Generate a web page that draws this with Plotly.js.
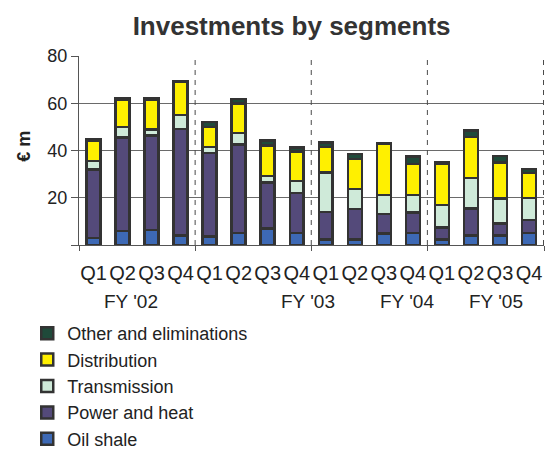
<!DOCTYPE html>
<html>
<head>
<meta charset="utf-8">
<script src="https://cdn.plot.ly/plotly-3.0.1.min.js"></script>
<style>
  html, body { margin: 0; padding: 0; background: #ffffff; }
  #chart { width: 545px; height: 450px; }
</style>
</head>
<body>
<div id="chart"></div>
<script>
// Quarterly investments by segment, € m
const years = ["FY '02", "FY '03", "FY '04", "FY '05"];
const quarters = ["Q1", "Q2", "Q3", "Q4"];

const oilShale     = [3.0, 6.0, 6.3, 4.0, 3.5, 5.0, 7.0, 5.0, 2.3, 2.3, 4.8, 5.1, 2.3, 4.1, 4.1, 5.1];
const powerAndHeat = [29.0, 39.5, 40.0, 45.0, 35.5, 37.5, 19.5, 17.0, 11.7, 12.9, 8.3, 8.7, 5.1, 11.4, 5.0, 5.4];
const transmission = [3.5, 4.5, 2.5, 6.0, 2.5, 5.0, 2.7, 5.0, 16.6, 8.6, 8.0, 7.3, 9.5, 12.8, 10.6, 9.5];
const distribution = [8.5, 11.5, 12.5, 14.0, 8.5, 12.5, 13.0, 12.5, 10.8, 12.7, 21.6, 13.1, 17.7, 17.4, 15.3, 10.4];
const otherElim    = [0.8, 0.7, 0.7, 0.5, 2.0, 1.8, 2.0, 1.8, 2.0, 2.0, 0.4, 3.2, 0.4, 2.7, 2.7, 1.8];

// one category per quarter, labelled with the quarter only
const categories = [];
const tickLabels = [];
years.forEach(y => quarters.forEach(q => { categories.push(y + " " + q); tickLabels.push(q); }));

// year captions under the quarter labels (category index where each caption sits)
const yearCaptionAt = [1.3, 7.4, 10.8, 13.85];

const edge = { color: "#333333", width: 2.5 };
const series = [
  { name: "Oil shale",              y: oilShale,     color: "#3d69b5" },
  { name: "Power and heat",         y: powerAndHeat, color: "#544a7a" },
  { name: "Transmission",           y: transmission, color: "#cfead9" },
  { name: "Distribution",           y: distribution, color: "#fff000" },
  { name: "Other and eliminations", y: otherElim,    color: "#1f4a3a" }
];

const traces = series.map(s => ({
  type: "bar",
  name: s.name,
  x: categories,
  y: s.y,
  marker: { color: s.color, line: edge },
  hoverinfo: "name+y"
}));

// boundary ticks between financial years on a hidden helper axis
traces.push({
  type: "scatter", x: [-0.5, 15.5], y: [0, 0], xaxis: "x2", yaxis: "y",
  mode: "none", showlegend: false, hoverinfo: "skip"
});

const boundaries = [3.5, 7.5, 11.5, 15.5];
const shapes = boundaries.map(b => ({
  type: "line", xref: "x", yref: "y", x0: b, x1: b, y0: 0, y1: 80,
  line: { color: "#4a4a4a", width: 1, dash: "5px,5px" }
}));

const annotations = years.map((y, i) => ({
  text: y, xref: "x", yref: "paper", x: yearCaptionAt[i], y: 0,
  yshift: -56, showarrow: false, xanchor: "center", yanchor: "middle",
  font: { family: "Liberation Sans, Arial, sans-serif", size: 19, color: "#222222" }
}));
annotations.push({
  text: "<b>€ m</b>", xref: "paper", yref: "paper", x: 0, y: 0.52,
  xshift: -67, textangle: -90, showarrow: false,
  font: { family: "Liberation Sans, Arial, sans-serif", size: 18, color: "#222222" }
});

const layout = {
  width: 545, height: 450,
  margin: { l: 79, r: 1, t: 56, b: 205, autoexpand: false },
  paper_bgcolor: "#ffffff", plot_bgcolor: "#ffffff",
  font: { family: "Liberation Sans, Arial, sans-serif", size: 18, color: "#222222" },
  title: {
    text: "<b>Investments by segments</b>",
    x: 0.535, xref: "container", y: 0.963, yref: "container",
    font: { size: 26, color: "#333333" }
  },
  barmode: "stack",
  bargap: 0.52,
  showlegend: true,
  legend: {
    traceorder: "reversed",
    xref: "container", yref: "container",
    x: 0.05, y: 0.3, xanchor: "left", yanchor: "top",
    font: { size: 18, color: "#222222" },
    bgcolor: "rgba(0,0,0,0)"
  },
  xaxis: {
    type: "category",
    tickmode: "array", tickvals: categories, ticktext: tickLabels,
    tickangle: 0, ticklabelstandoff: 10,
    ticks: "", showgrid: false, zeroline: false,
    showline: true, linecolor: "#555555", linewidth: 1,
    tickfont: { size: 20, color: "#222222" },
    fixedrange: true
  },
  xaxis2: {
    overlaying: "x", range: [-0.5, 15.5],
    tickmode: "array", tickvals: [-0.5, 3.5, 7.5, 11.5, 15.5],
    ticks: "outside", ticklen: 5, tickcolor: "#555555",
    showticklabels: false, showgrid: false, zeroline: false, showline: false
  },
  yaxis: {
    range: [0, 80],
    tickmode: "array", tickvals: [0, 20, 40, 60, 80], ticktext: ["", "20", "40", "60", "80"],
    ticks: "outside", ticklen: 7, tickcolor: "#555555",
    showline: true, linecolor: "#555555", linewidth: 1,
    showgrid: true, gridcolor: "#6a6a6a", gridwidth: 1,
    zeroline: false,
    tickfont: { size: 18, color: "#222222" },
    fixedrange: true
  },
  shapes: shapes,
  annotations: annotations
};

Plotly.newPlot("chart", traces, layout, { displayModeBar: false, staticPlot: true });
</script>
</body>
</html>
